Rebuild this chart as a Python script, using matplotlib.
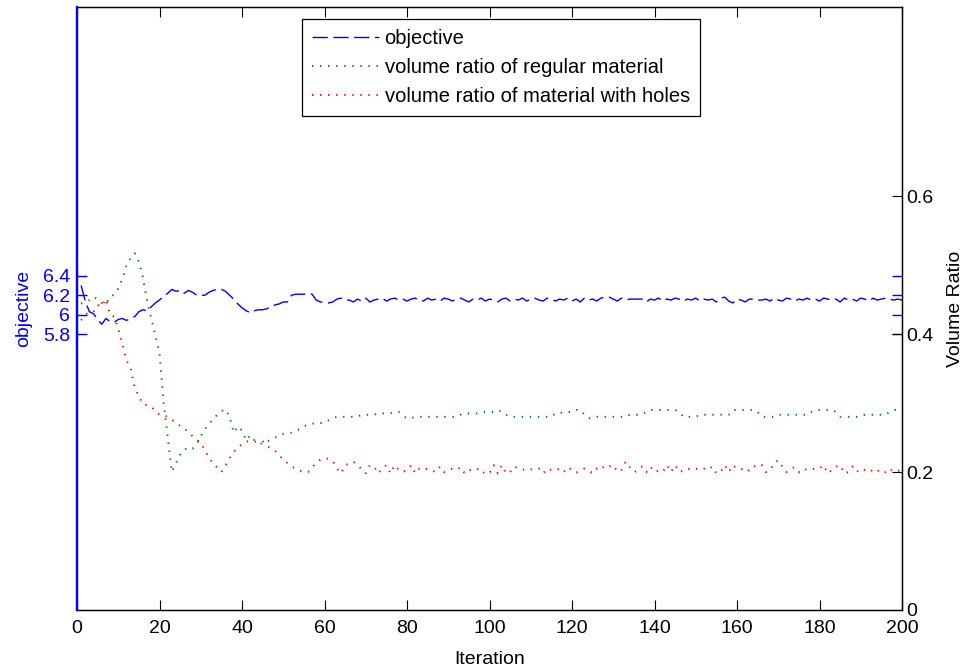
import numpy as np
import matplotlib
matplotlib.use('Agg')
import matplotlib.pyplot as plt

# values (iterations 1..200)
iterations = np.arange(1, 201)

objective = [
    6.30, 6.14, 6.03, 6.01, 5.95, 5.90, 5.96, 5.93, 5.92, 5.95,
    5.96, 5.94, 5.96, 5.98, 6.03, 6.05, 6.04, 6.08, 6.12, 6.15,
    6.19, 6.22, 6.26, 6.24, 6.25, 6.22, 6.25, 6.23, 6.20, 6.20,
    6.20, 6.23, 6.25, 6.26, 6.26, 6.24, 6.20, 6.16, 6.11, 6.07,
    6.04, 6.02, 6.04, 6.05, 6.05, 6.06, 6.08, 6.10, 6.11, 6.13,
    6.13, 6.20, 6.21, 6.21, 6.21, 6.22, 6.21, 6.15, 6.13, 6.13,
    6.12, 6.13, 6.16, 6.17, 6.15, 6.15, 6.13, 6.16, 6.14, 6.17,
    6.13, 6.15, 6.16, 6.17, 6.14, 6.16, 6.17, 6.15, 6.16, 6.14,
    6.16, 6.17, 6.15, 6.14, 6.17, 6.15, 6.16, 6.14, 6.17, 6.16,
    6.14, 6.16, 6.17, 6.15, 6.13, 6.16, 6.15, 6.17, 6.14, 6.16,
    6.15, 6.13, 6.16, 6.17, 6.14, 6.16, 6.15, 6.17, 6.14, 6.16,
    6.17, 6.15, 6.14, 6.17, 6.16, 6.14, 6.16, 6.15, 6.17, 6.14,
    6.16, 6.13, 6.17, 6.15, 6.16, 6.14, 6.17, 6.18, 6.18, 6.16,
    6.14, 6.17, 6.15, 6.16, 6.16, 6.16, 6.16, 6.13, 6.16, 6.15,
    6.17, 6.14, 6.16, 6.15, 6.17, 6.16, 6.14, 6.16, 6.15, 6.17,
    6.14, 6.16, 6.15, 6.16, 6.13, 6.17, 6.18, 6.14, 6.12, 6.16,
    6.15, 6.13, 6.16, 6.16, 6.15, 6.15, 6.16, 6.14, 6.17, 6.15,
    6.14, 6.17, 6.16, 6.14, 6.16, 6.15, 6.17, 6.15, 6.16, 6.14,
    6.17, 6.16, 6.15, 6.16, 6.13, 6.17, 6.15, 6.16, 6.14, 6.17,
    6.16, 6.14, 6.17, 6.15, 6.16, 6.17, 6.16, 6.15, 6.16, 6.15,
]

regular = [
    0.444, 0.447, 0.449, 0.454, 0.450, 0.445, 0.443, 0.454, 0.457, 0.466,
    0.480, 0.500, 0.510, 0.517, 0.505, 0.482, 0.447, 0.423, 0.398, 0.372,
    0.300, 0.250, 0.200, 0.213, 0.225, 0.232, 0.236, 0.234, 0.240, 0.252,
    0.262, 0.270, 0.276, 0.283, 0.288, 0.291, 0.280, 0.257, 0.266, 0.260,
    0.246, 0.253, 0.246, 0.242, 0.241, 0.244, 0.247, 0.250, 0.252, 0.255,
    0.256, 0.257, 0.260, 0.262, 0.266, 0.269, 0.270, 0.271, 0.271, 0.271,
    0.275, 0.278, 0.280, 0.280, 0.280, 0.280, 0.280, 0.280, 0.283, 0.283,
    0.283, 0.283, 0.285, 0.285, 0.285, 0.285, 0.287, 0.287, 0.281, 0.278,
    0.278, 0.280, 0.280, 0.280, 0.280, 0.280, 0.280, 0.280, 0.280, 0.280,
    0.280, 0.280, 0.283, 0.285, 0.285, 0.285, 0.285, 0.287, 0.287, 0.287,
    0.287, 0.290, 0.287, 0.283, 0.280, 0.280, 0.280, 0.280, 0.280, 0.280,
    0.280, 0.280, 0.280, 0.280, 0.280, 0.285, 0.285, 0.287, 0.287, 0.287,
    0.290, 0.290, 0.283, 0.278, 0.278, 0.280, 0.280, 0.280, 0.280, 0.280,
    0.280, 0.280, 0.280, 0.283, 0.283, 0.283, 0.283, 0.287, 0.290, 0.290,
    0.290, 0.290, 0.290, 0.290, 0.290, 0.287, 0.280, 0.280, 0.280, 0.280,
    0.283, 0.283, 0.283, 0.283, 0.283, 0.283, 0.283, 0.283, 0.290, 0.290,
    0.290, 0.290, 0.290, 0.290, 0.287, 0.280, 0.280, 0.280, 0.280, 0.283,
    0.283, 0.283, 0.283, 0.283, 0.283, 0.283, 0.283, 0.287, 0.290, 0.290,
    0.290, 0.290, 0.290, 0.287, 0.280, 0.280, 0.280, 0.280, 0.280, 0.280,
    0.283, 0.283, 0.283, 0.283, 0.283, 0.283, 0.287, 0.290, 0.290, 0.290,
]

holes = [
    0.420, 0.428, 0.432, 0.432, 0.442, 0.440, 0.451, 0.428, 0.425, 0.408,
    0.385, 0.362, 0.350, 0.322, 0.310, 0.298, 0.297, 0.295, 0.288, 0.283,
    0.282, 0.280, 0.276, 0.271, 0.267, 0.263, 0.258, 0.252, 0.247, 0.242,
    0.232, 0.220, 0.213, 0.206, 0.200, 0.210, 0.220, 0.229, 0.236, 0.240,
    0.244, 0.245, 0.244, 0.244, 0.245, 0.238, 0.234, 0.231, 0.224, 0.218,
    0.213, 0.208, 0.205, 0.202, 0.200, 0.200, 0.207, 0.213, 0.218, 0.220,
    0.219, 0.216, 0.205, 0.198, 0.210, 0.212, 0.215, 0.210, 0.204, 0.198,
    0.210, 0.208, 0.198, 0.205, 0.210, 0.198, 0.210, 0.203, 0.200, 0.203,
    0.210, 0.198, 0.205, 0.203, 0.205, 0.202, 0.200, 0.208, 0.200, 0.202,
    0.205, 0.203, 0.207, 0.198, 0.203, 0.203, 0.205, 0.198, 0.200, 0.198,
    0.210, 0.198, 0.210, 0.198, 0.200, 0.208, 0.205, 0.203, 0.205, 0.204,
    0.203, 0.205, 0.198, 0.205, 0.203, 0.202, 0.205, 0.200, 0.207, 0.203,
    0.199, 0.202, 0.205, 0.203, 0.198, 0.205, 0.203, 0.210, 0.208, 0.210,
    0.200, 0.203, 0.215, 0.207, 0.200, 0.202, 0.208, 0.200, 0.208, 0.200,
    0.202, 0.200, 0.210, 0.200, 0.210, 0.200, 0.202, 0.205, 0.203, 0.205,
    0.203, 0.205, 0.203, 0.208, 0.198, 0.200, 0.210, 0.200, 0.210, 0.205,
    0.205, 0.200, 0.203, 0.209, 0.207, 0.210, 0.200, 0.202, 0.213, 0.217,
    0.208, 0.200, 0.205, 0.207, 0.200, 0.205, 0.203, 0.205, 0.204, 0.205,
    0.210, 0.198, 0.203, 0.208, 0.210, 0.198, 0.200, 0.208, 0.200, 0.205,
    0.203, 0.205, 0.200, 0.203, 0.198, 0.200, 0.205, 0.200, 0.202, 0.200,
]

series_labels = ['objective', 'volume ratio of regular material',
                 'volume ratio of material with holes']
x_ticks = list(range(0, 201, 20))
obj_ticks = [5.8, 6.0, 6.2, 6.4]
obj_tick_labels = ['5.8', '6', '6.2', '6.4']
vol_ticks = [0, 0.2, 0.4, 0.6]
vol_tick_labels = ['0', '0.2', '0.4', '0.6']

plt.rcParams['font.family'] = ['Liberation Sans', 'DejaVu Sans']
plt.rcParams['font.size'] = 14
plt.rcParams['lines.scale_dashes'] = False

fig = plt.figure(figsize=(9.64, 6.69), dpi=100)
ax1 = fig.add_axes([77 / 964, 1 - 610 / 669, 825 / 964, 603 / 669])
ax2 = ax1.twinx()

l1, = ax1.plot(iterations, objective, color='#0000ff', lw=1.0, dashes=(11, 4))
l2, = ax2.plot(iterations, regular, color='#008000', lw=1.4, dashes=(1.0, 4.8))
l3, = ax2.plot(iterations, holes, color='#ff0000', lw=1.4, dashes=(1.0, 4.8))

ax1.set_xlim(0, 200)
ax1.set_xticks(x_ticks)
ax1.tick_params(axis='x', direction='in', top=True, length=7, width=0.8,
                colors='black', pad=7)
ax1.set_ylim(2.955, 9.171)
ax1.set_yticks(obj_ticks)
ax1.set_yticklabels(obj_tick_labels)
ax1.tick_params(axis='y', direction='in', left=True, right=True, length=7,
                width=1.0, colors='blue', pad=5)

ax2.set_ylim(0, 0.874)
ax2.set_yticks(vol_ticks)
ax2.set_yticklabels(vol_tick_labels)
ax2.tick_params(axis='y', direction='in', length=7, width=0.8,
                colors='black', pad=3)

for ax in (ax1, ax2):
    for side in ('top', 'bottom', 'right'):
        ax.spines[side].set_color('black')
        ax.spines[side].set_linewidth(0.9)
    ax.spines['left'].set_color('blue')
    ax.spines['left'].set_linewidth(1.6)

ax1.set_xlabel('Iteration', labelpad=10)
ax1.set_ylabel('objective', color='blue', labelpad=8)
ax2.set_ylabel('Volume Ratio', labelpad=10)

leg = ax2.legend([l1, l2, l3], series_labels, loc='upper left',
                 bbox_to_anchor=(302 / 964, 1 - 19 / 669),
                 bbox_transform=fig.transFigure, borderaxespad=0,
                 fancybox=False, edgecolor='black', framealpha=1,
                 fontsize=14.5, handlelength=3.3, handletextpad=0.3,
                 labelspacing=0.5, borderpad=0.5)
leg.get_frame().set_linewidth(0.9)

fig.savefig('out.png', dpi=100)
